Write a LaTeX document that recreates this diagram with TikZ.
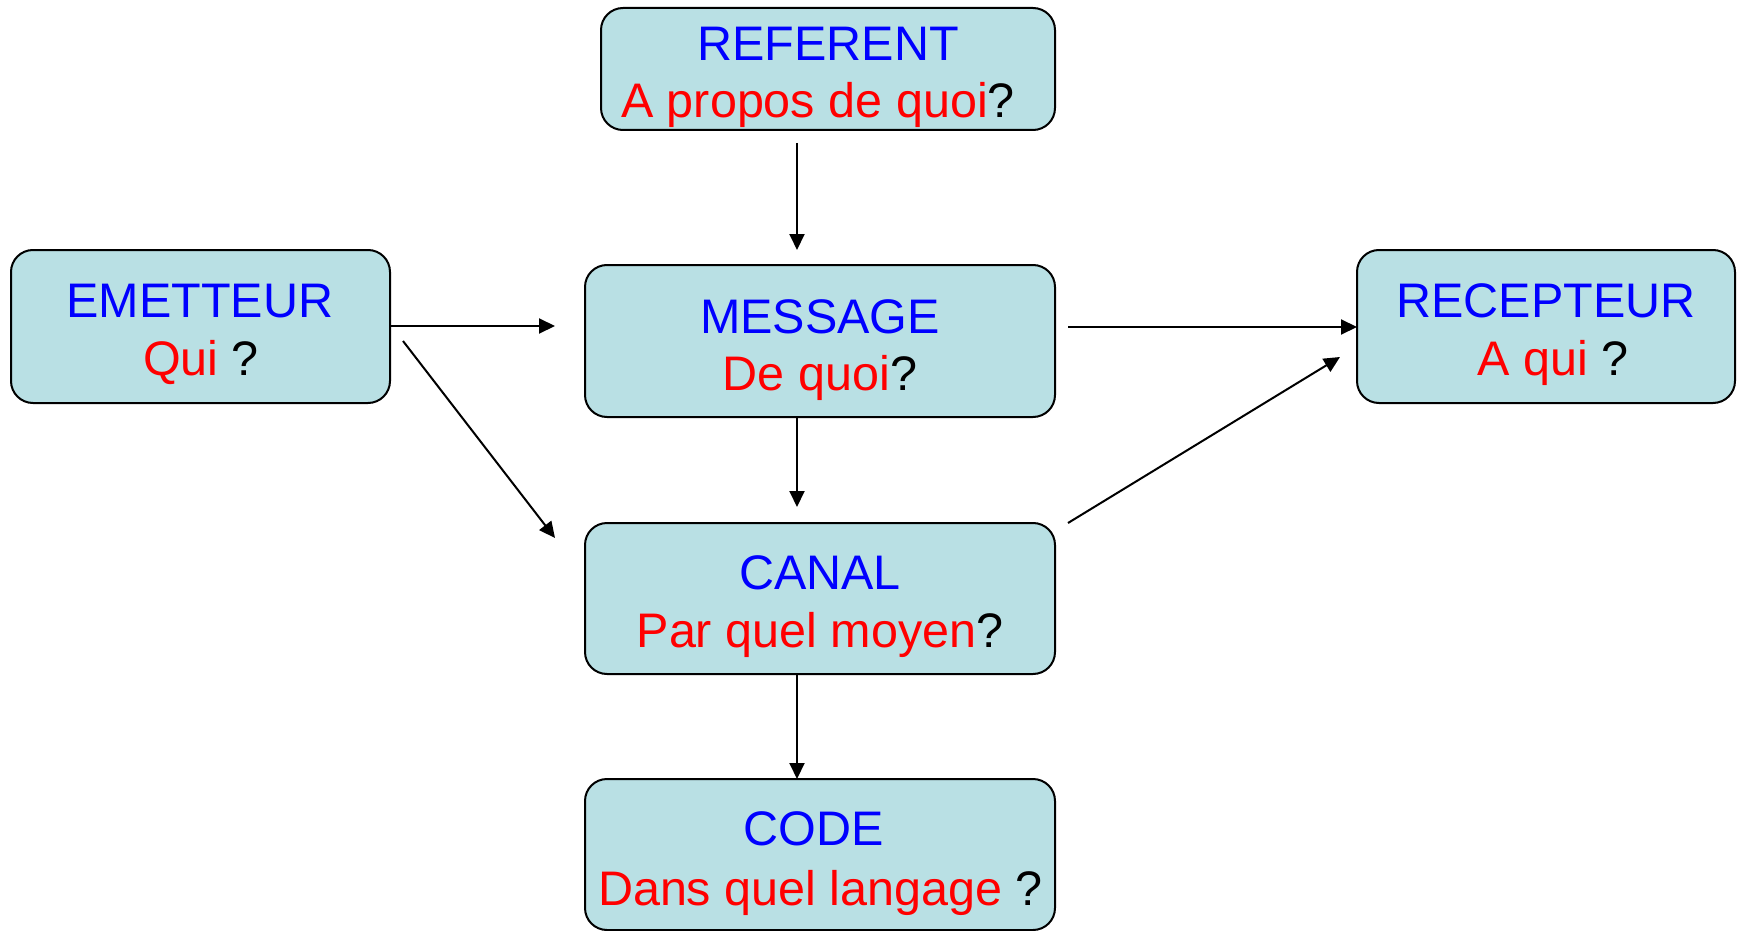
\documentclass[tikz,border=0pt]{standalone}
\usepackage{fontspec}
\setmainfont{Liberation Sans}
\usetikzlibrary{arrows.meta}
\definecolor{boxfill}{RGB}{185,224,228}
\definecolor{tblue}{RGB}{0,0,255}
\definecolor{tred}{RGB}{255,0,0}
\begin{document}
\begin{tikzpicture}[x=1pt,y=-1pt,
  box/.style={draw=black, line width=2pt, fill=boxfill, rounded corners=22pt,
    rectangle, inner sep=0pt, outer sep=0pt},
  txt/.style={anchor=base, inner sep=0pt, font=\fontsize{48.5}{58}\selectfont},
  conn/.style={line width=2pt, -{Triangle[length=16pt,width=15pt]}}]
\useasboundingbox (0,0) rectangle (1741,931);
% boxes
\node[box, minimum width=454pt, minimum height=122pt] (referent) at (828,69) {};
\node[box, minimum width=379pt, minimum height=153pt] (emetteur) at (200.5,326.5) {};
\node[box, minimum width=470pt, minimum height=152pt] (message) at (820,341) {};
\node[box, minimum width=378pt, minimum height=153pt] (recepteur) at (1546,326.5) {};
\node[box, minimum width=470pt, minimum height=151pt] (canal) at (820,598.5) {};
\node[box, minimum width=470pt, minimum height=151pt] (code) at (820,854.5) {};
% texts
\node[txt, text=tblue] (t1a) at (828,61) {REFERENT};
\node[txt] (t1b) at (818,118) {\textcolor{tred}{A propos de quoi}?};
\node[txt, text=tblue] (t2a) at (200,317) {EMETTEUR};
\node[txt] (t2b) at (201,375) {\textcolor{tred}{Qui} ?};
\node[txt, text=tblue] (t3a) at (820,333) {MESSAGE};
\node[txt] (t3b) at (820,390) {\textcolor{tred}{De quoi}?};
\node[txt, text=tblue] (t4a) at (1546,317) {RECEPTEUR};
\node[txt] (t4b) at (1553,375) {\textcolor{tred}{A qui} ?};
\node[txt, text=tblue] (t5a) at (820,589) {CANAL};
\node[txt] (t5b) at (820,647) {\textcolor{tred}{Par quel moyen}?};
\node[txt, text=tblue] (t6a) at (813.5,845) {CODE};
\node[txt] (t6b) at (820.5,905) {\textcolor{tred}{Dans quel langage} ?};
% connector end points
\coordinate (refout) at (797,143);
\coordinate (msgin) at (797,250);
\coordinate (msgout) at (797,417);
\coordinate (canin) at (797,507);
\coordinate (canout) at (797,674);
\coordinate (codein) at (797,779);
\coordinate (emout1) at (390,326);
\coordinate (msginl) at (555,326);
\coordinate (emout2) at (403,341);
\coordinate (caninl) at (555,538);
\coordinate (msgoutr) at (1068,327);
\coordinate (recin1) at (1357,327);
\coordinate (canoutr) at (1068,523);
\coordinate (recin2) at (1340,357);
% connectors
\draw[conn] (refout) -- (msgin);
\draw[conn] (msgout) -- (canin);
\draw[conn] (canout) -- (codein);
\draw[conn] (emout1) -- (msginl);
\draw[conn] (emout2) -- (caninl);
\draw[conn] (msgoutr) -- (recin1);
\draw[conn] (canoutr) -- (recin2);
\end{tikzpicture}
\end{document}
